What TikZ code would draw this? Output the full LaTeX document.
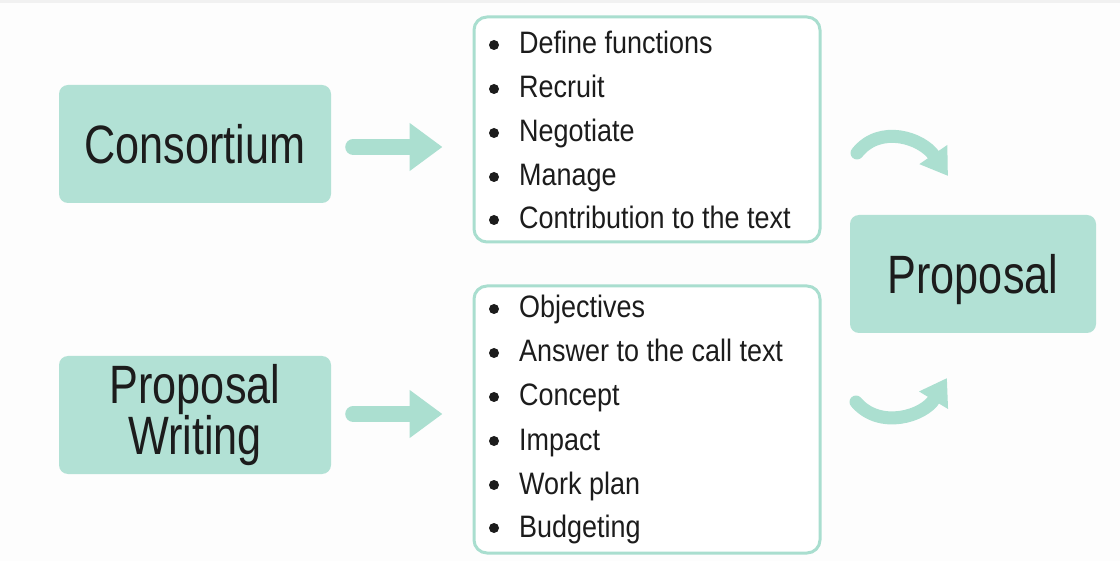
\documentclass[tikz,border=0pt]{standalone}
\usepackage{fontspec}
\setmainfont{Liberation Sans}
\newfontfamily\titlef[FakeStretch=0.80]{Liberation Sans}
\newfontfamily\listf[FakeStretch=0.87]{Liberation Sans}
\usetikzlibrary{arrows.meta}
\definecolor{tealfill}{HTML}{B2E1D5}
\definecolor{tealarrow}{HTML}{ABDFD0}
\definecolor{tealline}{HTML}{A9DECF}
\definecolor{ink}{HTML}{1C1C1C}
\definecolor{bgc}{HTML}{FDFDFD}
\definecolor{topband}{HTML}{F1F1F1}
\tikzset{
  tealbox/.style={fill=tealfill, draw=none, rounded corners=9pt, inner sep=0pt,
    text=ink, font=\titlef\fontsize{54}{46}\selectfont, align=center},
  listbox/.style={draw=tealline, line width=3pt, fill=white, rounded corners=13pt,
    inner sep=0pt, minimum width=346pt},
  item/.style={anchor=base west, inner sep=0pt, text=ink, font=\listf\fontsize{31}{37}\selectfont},
  bulletdot/.style={circle, fill=ink, inner sep=0pt, minimum size=10pt},
  straightarrow/.style={draw=tealarrow, line width=16pt, line cap=round,
    -{Triangle[length=33pt,width=46pt]}},
  curvedarrow/.style={draw=tealarrow, line width=13pt, line cap=round,
    -{Triangle[length=26pt,width=32pt]}}
}
\begin{document}
\begin{tikzpicture}[x=1pt,y=-1pt]
\useasboundingbox (0,0) rectangle (1120,561);
\fill[bgc] (0,0) rectangle (1120,561);
\fill[topband] (0,0) rectangle (1120,3);

% left boxes
\node[tealbox, minimum width=272pt, minimum height=118pt, text depth=0pt] (cons) at (195,144) {Consortium};
\node[tealbox, minimum width=272pt, minimum height=118pt] (pw) at (195,415) {Proposal\\Writing};

% right box
\node[tealbox, minimum width=246pt, minimum height=118pt, text depth=0pt] (prop) at (973,274) {Proposal};

% list boxes
\node[listbox, minimum height=225pt] (l1) at (647,129.5) {};
\node[listbox, minimum height=267pt] (l2) at (647,419.5) {};

% list 1 items
\foreach \t/\y [count=\i] in {Define functions/54, Recruit/98, Negotiate/142, Manage/186, Contribution to the text/229}{
  \node[bulletdot] (ba\i) at (494,\y-9) {};
  \node[item] (ia\i) at (519,\y) {\t};
}
% list 2 items
\foreach \t/\y [count=\i] in {Objectives/318, Answer to the call text/362, Concept/406, Impact/450, Work plan/494, Budgeting/537}{
  \node[bulletdot] (bb\i) at (494,\y-9) {};
  \node[item] (ib\i) at (519,\y) {\t};
}

% straight arrows
\draw[straightarrow] ([xshift=22pt]cons.east |- 0,147) coordinate (a1s) -- ([xshift=-30pt]l1.west |- 0,147) coordinate (a1e);
\draw[straightarrow] ([xshift=22pt]pw.east |- 0,414) coordinate (a2s) -- ([xshift=-30pt]l2.west |- 0,414) coordinate (a2e);

% curved arrows
\coordinate (c1s) at (857,153);
\coordinate (c1e) at (948,176);
\coordinate (c2s) at (856,402);
\coordinate (c2e) at (947,378);
\draw[curvedarrow] (c1s) .. controls (880,124) and (922,138) .. (c1e);
\draw[curvedarrow] (c2s) .. controls (880,430) and (924,416) .. (c2e);
\end{tikzpicture}
\end{document}
